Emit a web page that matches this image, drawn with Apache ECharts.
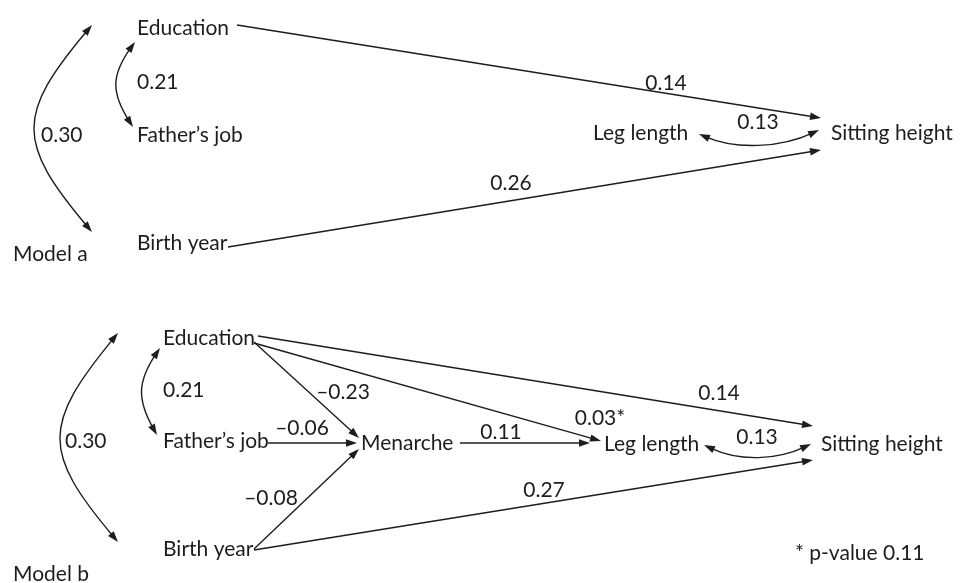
<!DOCTYPE html>
<html>
<head>
<meta charset="utf-8">
<script src="https://cdn.jsdelivr.net/npm/echarts@6/dist/echarts.min.js"></script>
<style>
html,body{margin:0;padding:0;background:#ffffff;}
#chart{width:967px;height:583px;}
</style>
</head>
<body>
<div id="chart"></div>
<script>
// ================= DATA =================
const modelTitles = ['Model a', 'Model b'];
const variablesA = ['Education', 'Father\u2019s job', 'Birth year', 'Leg length', 'Sitting height'];
const variablesB = ['Education', 'Father\u2019s job', 'Birth year', 'Menarche', 'Leg length', 'Sitting height'];
// directed paths: [from, to, coefficient]
const pathsA = [
  ['Education', 'Sitting height', 0.14],
  ['Birth year', 'Sitting height', 0.26]
];
const pathsB = [
  ['Education', 'Menarche', -0.23],
  ['Father\u2019s job', 'Menarche', -0.06],
  ['Birth year', 'Menarche', -0.08],
  ['Menarche', 'Leg length', 0.11],
  ['Education', 'Leg length', 0.03],
  ['Education', 'Sitting height', 0.14],
  ['Birth year', 'Sitting height', 0.27]
];
// correlations (double-headed): [a, b, coefficient]
const correlationsA = [
  ['Education', 'Birth year', 0.30],
  ['Education', 'Father\u2019s job', 0.21],
  ['Leg length', 'Sitting height', 0.13]
];
const correlationsB = [
  ['Education', 'Birth year', 0.30],
  ['Education', 'Father\u2019s job', 0.21],
  ['Leg length', 'Sitting height', 0.13]
];
const starredPathsB = ['Education>Leg length'];
const footnote = '* p-value 0.11';

// ================= LAYOUT (axis units) =================
const layoutA = {
  title: [13, 254],
  nodes: {
    'Education': [137, 28],
    'Father\u2019s job': [137, 135],
    'Birth year': [137, 243],
    'Leg length': [593, 133],
    'Sitting height': [831, 133]
  },
  paths: {
    'Education>Sitting height': { from: [237, 25], to: [821, 118], label: [666, 83] },
    'Birth year>Sitting height': { from: [228, 247], to: [821, 150], label: [511, 183] }
  },
  corrs: {
    'Education~Birth year': { from: [92, 25], to: [92, 232], c1: [16, 115], c2: [16, 142], label: [41, 135], align: 'left' },
    'Education~Father\u2019s job': { from: [135, 42], to: [133, 127], c1: [111, 75], c2: [111, 93], label: [137, 82], align: 'left' },
    'Leg length~Sitting height': { from: [699, 134], to: [819, 130], c1: [736, 150], c2: [780, 148], label: [758, 122], align: 'center' }
  }
};
const layoutB = {
  title: [13, 574],
  footnote: [795, 553],
  nodes: {
    'Education': [163, 338],
    'Father\u2019s job': [163, 441],
    'Birth year': [163, 549],
    'Menarche': [361, 443],
    'Leg length': [604, 444],
    'Sitting height': [821, 444]
  },
  paths: {
    'Education>Menarche': { from: [254, 342], to: [359, 438], label: [343, 392] },
    'Father\u2019s job>Menarche': { from: [268, 443], to: [357, 443], label: [302, 428] },
    'Birth year>Menarche': { from: [254, 549], to: [359, 449], label: [271, 498] },
    'Menarche>Leg length': { from: [460, 443], to: [590, 443], label: [501, 432] },
    'Education>Leg length': { from: [254, 343], to: [601, 441], label: [600, 418] },
    'Education>Sitting height': { from: [258, 336], to: [813, 426], label: [719, 393] },
    'Birth year>Sitting height': { from: [254, 550], to: [813, 460], label: [544, 490] }
  },
  corrs: {
    'Education~Birth year': { from: [118, 333], to: [118, 542], c1: [42, 425], c2: [42, 452], label: [65, 441], align: 'left' },
    'Education~Father\u2019s job': { from: [160, 348], to: [157, 435], c1: [137, 382], c2: [137, 400], label: [163, 390], align: 'left' },
    'Leg length~Sitting height': { from: [704, 445], to: [811, 444], c1: [740, 462], c2: [777, 460], label: [757, 437], align: 'center' }
  }
};

// ================= BUILD DRAW ITEMS =================
const INK = '#1f1c1d';
const FONT_FAMILY = 'Lato';
const FONT_SIZE = 21;

function fmt(v, star) {
  return (v < 0 ? '\u2013' : '') + Math.abs(v).toFixed(2) + (star ? '*' : '');
}

const items = [];
function addModel(title, variables, paths, corrs, lay, starred) {
  items.push({ kind: 'text', text: title, pos: lay.title, align: 'left' });
  variables.forEach(function (v) {
    items.push({ kind: 'text', text: v, pos: lay.nodes[v], align: 'left' });
  });
  paths.forEach(function (p) {
    const key = p[0] + '>' + p[1];
    const g = lay.paths[key];
    items.push({ kind: 'arrow', from: g.from, to: g.to });
    items.push({ kind: 'text', text: fmt(p[2], starred.indexOf(key) >= 0), pos: g.label, align: 'center' });
  });
  corrs.forEach(function (c) {
    const key = c[0] + '~' + c[1];
    const g = lay.corrs[key];
    items.push({ kind: 'curve', from: g.from, to: g.to, c1: g.c1, c2: g.c2 });
    items.push({ kind: 'text', text: fmt(c[2], false), pos: g.label, align: g.align });
  });
}
addModel(modelTitles[0], variablesA, pathsA, correlationsA, layoutA, []);
addModel(modelTitles[1], variablesB, pathsB, correlationsB, layoutB, starredPathsB);
items.push({ kind: 'text', text: footnote, pos: layoutB.footnote, align: 'left' });

// ================= RENDER =================
const AL = 11, AW = 3.7;
function unit(a, b) {
  const dx = b[0] - a[0], dy = b[1] - a[1];
  const l = Math.sqrt(dx * dx + dy * dy) || 1;
  return [dx / l, dy / l];
}
function head(tip, d) {
  const bx = tip[0] - d[0] * AL, by = tip[1] - d[1] * AL;
  return {
    type: 'polygon',
    shape: { points: [tip, [bx - d[1] * AW, by + d[0] * AW], [bx + d[1] * AW, by - d[0] * AW]] },
    style: { fill: INK, stroke: null }
  };
}

function renderItem(params, api) {
  const it = items[params.dataIndex];
  if (it.kind === 'text') {
    const p = api.coord(it.pos);
    return {
      type: 'text',
      style: {
        text: it.text, x: p[0], y: p[1],
        fill: INK, fontFamily: FONT_FAMILY, fontSize: FONT_SIZE,
        align: it.align, verticalAlign: 'middle'
      }
    };
  }
  if (it.kind === 'arrow') {
    const a = api.coord(it.from), b = api.coord(it.to);
    const d = unit(a, b);
    const end = [b[0] - d[0] * AL * 0.7, b[1] - d[1] * AL * 0.7];
    return {
      type: 'group',
      children: [
        { type: 'line', shape: { x1: a[0], y1: a[1], x2: end[0], y2: end[1] }, style: { stroke: INK, lineWidth: 1.4 } },
        head(b, d)
      ]
    };
  }
  const p0 = api.coord(it.from), p3 = api.coord(it.to);
  const c1 = api.coord(it.c1), c2 = api.coord(it.c2);
  const d0 = unit(c1, p0), d3 = unit(c2, p3);
  const s = [p0[0] - d0[0] * AL * 0.6, p0[1] - d0[1] * AL * 0.6];
  const e = [p3[0] - d3[0] * AL * 0.6, p3[1] - d3[1] * AL * 0.6];
  return {
    type: 'group',
    children: [
      { type: 'bezierCurve', shape: { x1: s[0], y1: s[1], x2: e[0], y2: e[1], cpx1: c1[0], cpy1: c1[1], cpx2: c2[0], cpy2: c2[1] },
        style: { stroke: INK, lineWidth: 1.4, fill: null } },
      head(p0, d0),
      head(p3, d3)
    ]
  };
}

const chart = echarts.init(document.getElementById('chart'), null, { renderer: 'canvas' });
chart.setOption({
  backgroundColor: '#ffffff',
  animation: false,
  grid: { left: 0, right: 0, top: 0, bottom: 0 },
  xAxis: { type: 'value', min: 0, max: 967, show: false },
  yAxis: { type: 'value', min: 0, max: 583, inverse: true, show: false },
  series: [{
    type: 'custom',
    coordinateSystem: 'cartesian2d',
    renderItem: renderItem,
    clip: false,
    silent: true,
    data: items.map(function (it, i) { return [i, 0]; })
  }]
});
</script>
</body>
</html>
